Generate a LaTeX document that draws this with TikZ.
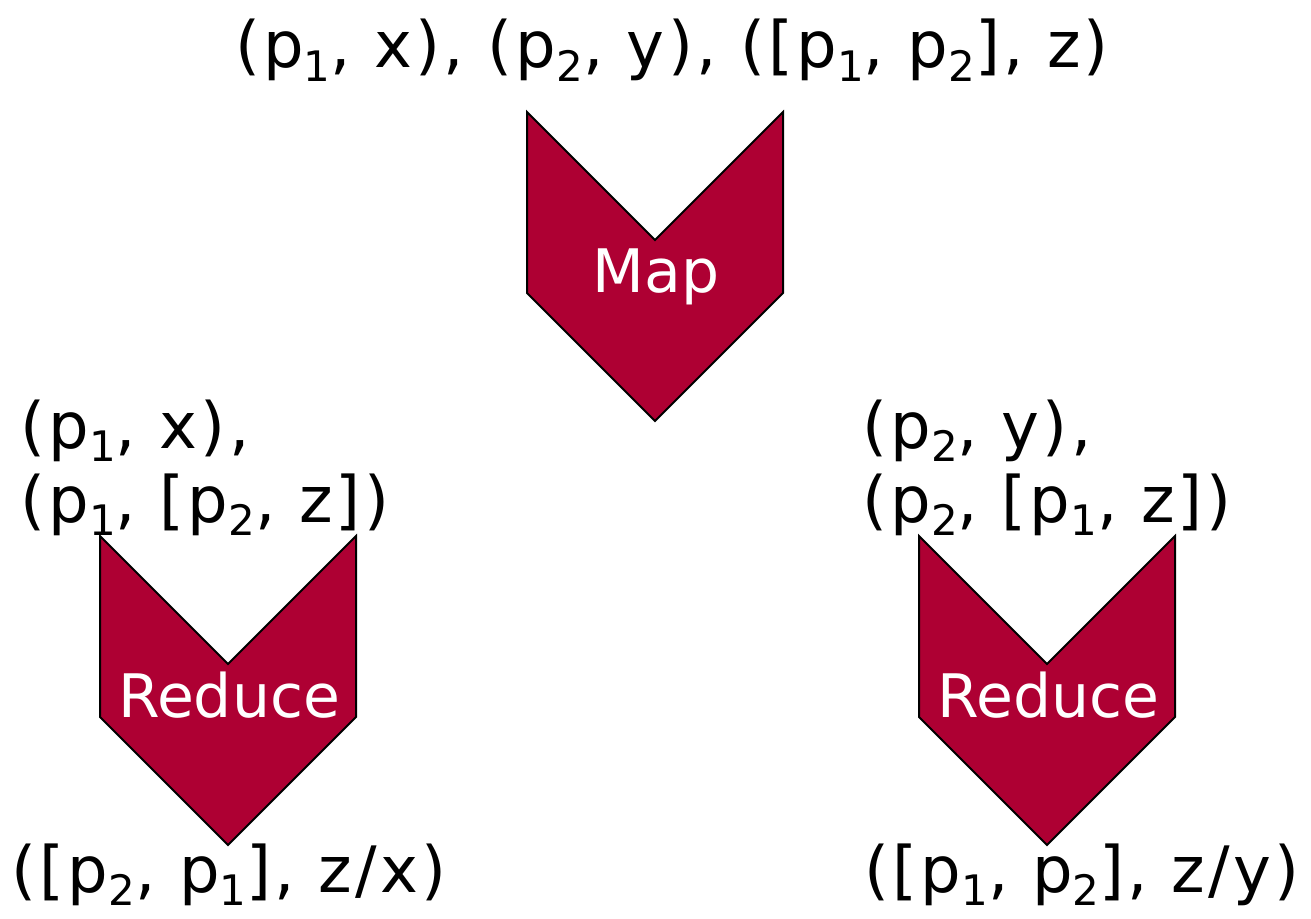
\documentclass[tikz,border=0pt]{standalone}
\usepackage{fontspec}
\setmainfont{DejaVu Sans}[LetterSpace=5]
\newfontfamily\chevfont{DejaVu Sans}
\usepackage{tikz}
\usetikzlibrary{positioning}
\definecolor{chevred}{HTML}{AE0033}
\newcommand\idx[1]{\raisebox{-0.21em}{\fontsize{21}{21}\selectfont#1}}
\tikzset{
  chev/.style={fill=chevred,draw=black,line width=1pt,line join=miter},
  lbl/.style={inner sep=0pt,font=\fontsize{32}{37}\selectfont},
  chevtext/.style={inner sep=0pt,font=\chevfont\fontsize{30}{30}\selectfont,text=white,anchor=base}
}

\begin{document}
\begin{tikzpicture}[x=0.5pt,y=-0.5pt]
  \useasboundingbox (0,0) rectangle (1311,919);
  % chevrons: centre x / top y / name / label
  \foreach \cx/\ty/\nm/\txt in {655/112/map/Map,228/536/redl/Reduce,1047/536/redr/Reduce}{
    \draw[chev] (\cx-128,\ty)--(\cx,\ty+128)--(\cx+128,\ty)--(\cx+128,\ty+181)--(\cx,\ty+309)--(\cx-128,\ty+181)--cycle;
    \node[chevtext] (\nm) at (\cx+1,\ty+181) {\txt};
  }
  % key/value lists
  \node[lbl,anchor=base] (inall) at (672,68) {(p\idx{1}, x), (p\idx{2}, y), ([p\idx{1}, p\idx{2}], z)};
  \node[lbl,anchor=base west,align=left] (inleft) at (20,522) {(p\idx{1}, x),\\(p\idx{1}, [p\idx{2}, z])};
  \node[lbl,anchor=base west,align=left] (inright) at (862,522) {(p\idx{2}, y),\\(p\idx{2}, [p\idx{1}, z])};
  \node[lbl,anchor=base] (outleft) at (229,892) {([p\idx{2}, p\idx{1}], z/x)};
  \node[lbl,anchor=base] (outright) at (1082,892) {([p\idx{1}, p\idx{2}], z/y)};
\end{tikzpicture}
\end{document}
